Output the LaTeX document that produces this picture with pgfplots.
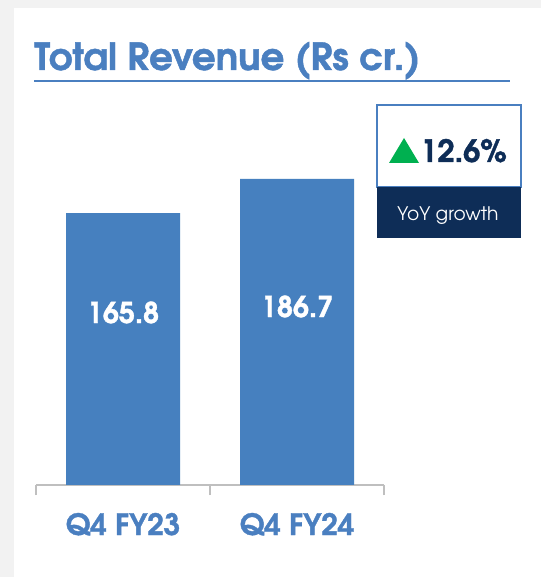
\documentclass[border=0pt]{standalone}
\usepackage{pgfplots}
\pgfplotsset{compat=1.18}
\usepackage{fontspec}
\setmainfont{texgyreadventor}[Extension=.otf, UprightFont=*-regular, BoldFont=*-bold, BoldFeatures={FakeBold=1.2}]
\definecolor{revblue}{HTML}{4A7FC0}
\definecolor{barblue}{HTML}{4680BF}
\definecolor{navy}{HTML}{0E2D57}
\definecolor{upgreen}{HTML}{00B050}
\definecolor{axisgray}{HTML}{BFBFBF}
\definecolor{bggray}{HTML}{F2F2F2}

\begin{document}
\begin{tikzpicture}[x=0.75pt,y=0.75pt]
% panel
\fill[bggray] (0,0) rectangle (541,577);
\fill[white] (14,0) rectangle (541,569);
% title
\node[anchor=base west, inner sep=0, text=revblue, font=\bfseries\fontsize{28}{32}\selectfont] at (34,507) {Total Revenue (Rs cr.)};
\draw[revblue, line width=1pt] (34,496) -- (510,496);

\coordinate (axorig) at (36,92);
\begin{axis}[
  at={(axorig)}, anchor=south west,
  scale only axis, width=261pt, height=246pt,
  xmin=-0.5, xmax=1.5, ymin=0, ymax=200,
  axis x line*=bottom, axis y line=none,
  axis line style={axisgray, line width=1.5pt, -},
  xtick={0,1}, xticklabels={Q4 FY23, Q4 FY24},
  major tick length=0pt,
  minor xtick={-0.5,0.5,1.5}, minor tick length=7.5pt,
  tick align=outside,
  minor tick style={axisgray, line width=1.5pt},
  xticklabel style={text=revblue, anchor=base, yshift=-37.5pt,
    font=\bfseries\fontsize{22}{26}\selectfont},
  clip=false,
]
\addplot[ybar, fill=barblue, draw=none, bar width=85.5pt]
  coordinates {(0,165.8) (1,186.7)};
\node[anchor=base, text=white, font=\bfseries\fontsize{21.5}{25}\selectfont] at (axis cs:0,98.75) {165.8};
\node[anchor=base, text=white, font=\bfseries\fontsize{21.5}{25}\selectfont] at (axis cs:1,102.4) {186.7};
\end{axis}

% YoY box
\draw[revblue, line width=1pt, fill=white] (377,390) rectangle (521,472);
\fill[navy] (377,339) rectangle (521,390);
\fill[upgreen] (389,414) -- (419,414) -- (404,439) -- cycle;
\node[anchor=base west, inner sep=0, text=navy, font=\bfseries\fontsize{23}{27}\selectfont] at (420,415) {12.6\%};
\node[anchor=base, text=white, font=\fontsize{14}{16}\selectfont] at (448,356) {YoY growth};
\pgfresetboundingbox
\useasboundingbox (0,0) rectangle (541,577);
\end{tikzpicture}
\end{document}
